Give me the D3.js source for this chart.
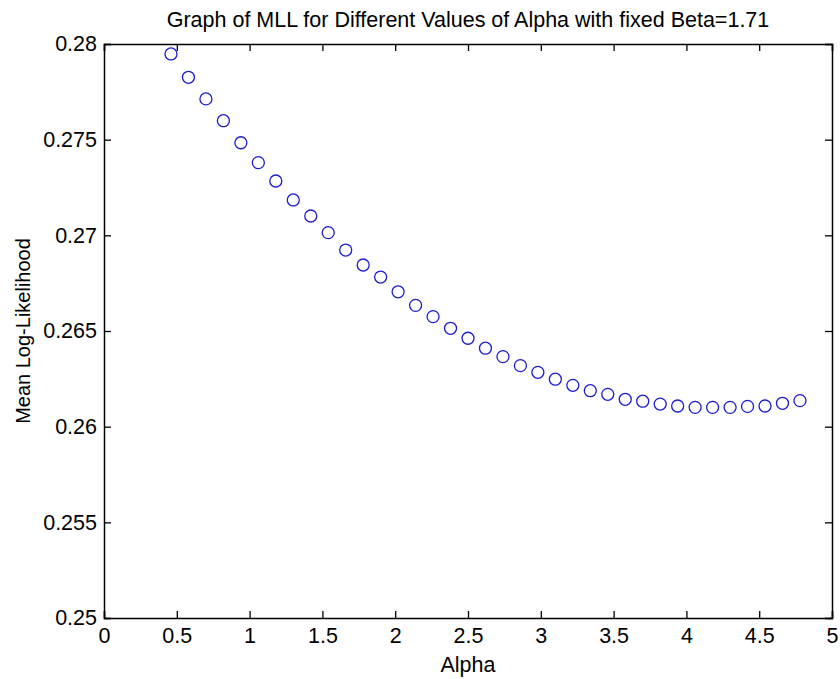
<!DOCTYPE html>
<html>
<head>
<meta charset="utf-8">
<script src="https://cdn.jsdelivr.net/npm/d3@7"></script>
<style>
	body { margin: 0; background: #fff; }
	text { font-family: "Liberation Sans", Arial, sans-serif; fill: #000; }
</style>
</head>
<body>
<div id="chart"></div>
<script>
const title = "Graph of MLL for Different Values of Alpha with fixed Beta=1.71";
const xLabel = "Alpha";
const yLabel = "Mean Log-Likelihood";

const xTicks = [0, 0.5, 1, 1.5, 2, 2.5, 3, 3.5, 4, 4.5, 5];
const yTicks = [0.25, 0.255, 0.26, 0.265, 0.27, 0.275, 0.28];

// alpha values
const alpha = [
	0.46, 0.58, 0.70, 0.82, 0.94, 1.06, 1.18, 1.30, 1.42, 1.54,
	1.66, 1.78, 1.90, 2.02, 2.14, 2.26, 2.38, 2.50, 2.62, 2.74,
	2.86, 2.98, 3.10, 3.22, 3.34, 3.46, 3.58, 3.70, 3.82, 3.94,
	4.06, 4.18, 4.30, 4.42, 4.54, 4.66, 4.78,
];
const mll = [
	0.27948, 0.27826, 0.27713, 0.27599, 0.27484, 0.27380, 0.27284, 0.27185, 0.27101, 0.27014,
	0.26923, 0.26845, 0.26782, 0.26705, 0.26634, 0.26575, 0.26514, 0.26462, 0.26410, 0.26366,
	0.26319, 0.26284, 0.26248, 0.26216, 0.26188, 0.26169, 0.26143, 0.26133, 0.26118, 0.26108,
	0.26101, 0.26101, 0.26101, 0.26106, 0.26108, 0.26122, 0.26136,
];

const width = 840;
const height = 679;
const margin = {top: 44, right: 8, bottom: 61, left: 104};
const tickLen = 7;
const fontSize = 21.5;

const x = d3.scaleLinear().domain([0, 5]).range([margin.left, width - margin.right]);
const y = d3.scaleLinear().domain([0.25, 0.28]).range([height - margin.bottom, margin.top]);

const svg = d3.select("#chart")
	.append("svg")
	.attr("width", width)
	.attr("height", height);

svg.append("rect").attr("width", width).attr("height", height).attr("fill", "#fff");

const fmt = (d) => String(+d.toFixed(3));

// ticks pointing inward on all four sides, MATLAB style
svg.append("g")
	.attr("transform", `translate(0,${y.range()[0]})`)
	.call(d3.axisBottom(x).tickValues(xTicks).tickSize(-tickLen).tickPadding(10).tickFormat(fmt));
svg.append("g")
	.attr("transform", `translate(0,${y.range()[1]})`)
	.call(d3.axisTop(x).tickValues(xTicks).tickSize(-tickLen).tickFormat(""));
svg.append("g")
	.attr("transform", `translate(${x.range()[0]},0)`)
	.call(d3.axisLeft(y).tickValues(yTicks).tickSize(-tickLen).tickPadding(7).tickFormat(fmt));
svg.append("g")
	.attr("transform", `translate(${x.range()[1]},0)`)
	.call(d3.axisRight(y).tickValues(yTicks).tickSize(-tickLen).tickFormat(""));

svg.selectAll(".domain").attr("stroke", "#000").attr("stroke-width", 1.5);
svg.selectAll(".tick line").attr("stroke", "#000").attr("stroke-width", 1.3);
svg.selectAll(".tick text")
	.style("font-size", `${fontSize}px`)
	.style("font-family", "'Liberation Sans', Arial, sans-serif")
	.attr("fill", "#000");

// markers
svg.append("g")
	.selectAll("circle")
	.data(alpha.map((a, i) => ({a, v: mll[i]})))
	.enter()
	.append("circle")
	.attr("cx", (d) => x(d.a))
	.attr("cy", (d) => y(d.v))
	.attr("r", 6)
	.attr("fill", "none")
	.attr("stroke", "#1c1cd0")
	.attr("stroke-width", 1.3);

const cx = (x.range()[0] + x.range()[1]) / 2;
const cy = (y.range()[0] + y.range()[1]) / 2;

svg.append("text")
	.attr("x", cx)
	.attr("y", 27)
	.attr("text-anchor", "middle")
	.style("font-size", `${fontSize}px`)
	.text(title);

svg.append("text")
	.attr("x", cx)
	.attr("y", 672)
	.attr("text-anchor", "middle")
	.style("font-size", `${fontSize}px`)
	.text(xLabel);

svg.append("text")
	.attr("transform", `translate(30,${cy}) rotate(-90)`)
	.attr("text-anchor", "middle")
	.style("font-size", "20px")
	.text(yLabel);
</script>
</body>
</html>
